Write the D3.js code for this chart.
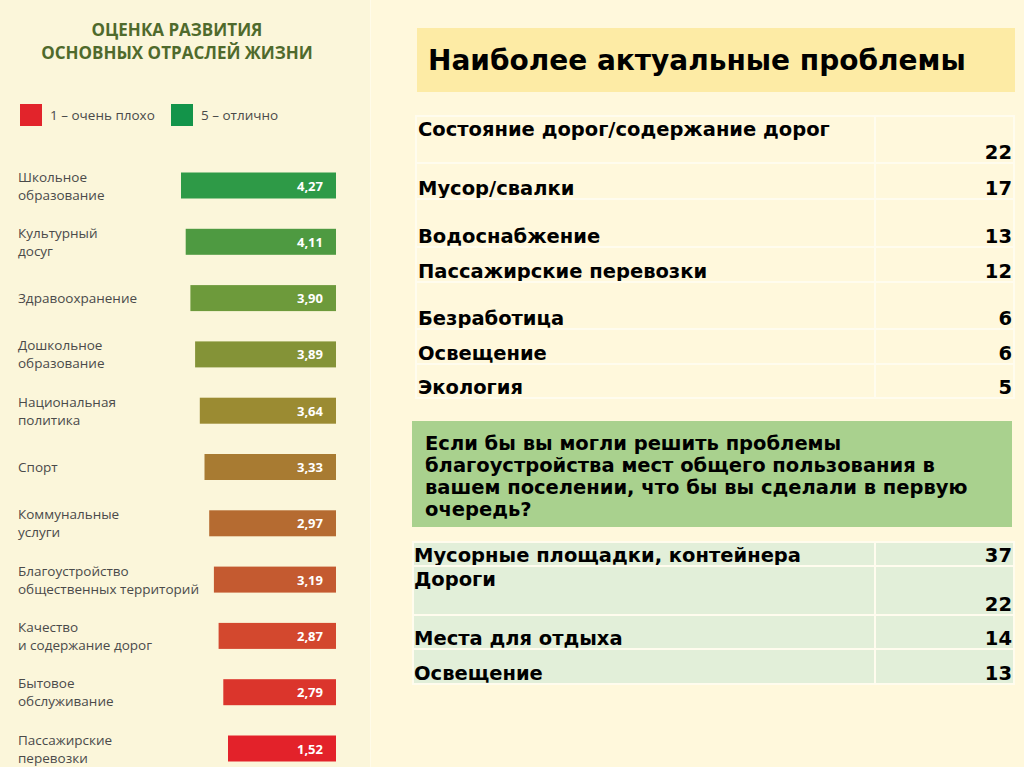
<!DOCTYPE html>
<html>
<head>
<meta charset="utf-8">
<script src="https://cdn.jsdelivr.net/npm/d3@7"></script>
<style>
  html, body { margin: 0; padding: 0; background: #fff8dc; }
  svg { display: block; }
</style>
</head>
<body>
<svg width="1024" height="767"></svg>
<script>
// left panel: ratings 1..5
const sectors = [
  ["Школьное", "образование"],
  ["Культурный", "досуг"],
  ["Здравоохранение"],
  ["Дошкольное", "образование"],
  ["Национальная", "политика"],
  ["Спорт"],
  ["Коммунальные", "услуги"],
  ["Благоустройство", "общественных территорий"],
  ["Качество", "и содержание дорог"],
  ["Бытовое", "обслуживание"],
  ["Пассажирские", "перевозки"]
];
const scores = [4.27, 4.11, 3.90, 3.89, 3.64, 3.33, 2.97, 3.19, 2.87, 2.79, 1.52];

// right panel: survey answers
const problems = ["Состояние дорог/содержание дорог", "Мусор/свалки", "Водоснабжение",
  "Пассажирские перевозки", "Безработица", "Освещение", "Экология"];
const problemVotes = [22, 17, 13, 12, 6, 6, 5];

const priorities = ["Мусорные площадки, контейнера", "Дороги", "Места для отдыха", "Освещение"];
const priorityVotes = [37, 22, 14, 13];

const svg = d3.select("svg");
const comma = d3.formatLocale({ decimal: ",", thousands: " ", grouping: [3], currency: ["", ""] }).format(".2f");

// ---- left panel ----
svg.append("rect").attr("x", 0).attr("y", 0).attr("width", 370).attr("height", 767).attr("fill", "#fbf6da");
svg.append("line").attr("x1", 370.5).attr("x2", 370.5).attr("y1", 0).attr("y2", 767)
  .attr("stroke", "#fffbe9").attr("stroke-width", 1);

const left = svg.append("g").attr("font-family", "'Open Sans', sans-serif");

left.selectAll(".ttl")
  .data(["ОЦЕНКА РАЗВИТИЯ", "ОСНОВНЫХ ОТРАСЛЕЙ ЖИЗНИ"])
  .join("text")
  .attr("x", 177).attr("y", (d, i) => 36 + i * 23)
  .attr("text-anchor", "middle")
  .attr("font-size", 17).attr("font-weight", 700)
  .attr("fill", "#4f6a2c")
  .text(d => d);

const legend = [
  { label: "1 – очень плохо", color: "#e2242b", x: 20 },
  { label: "5 – отлично", color: "#13944a", x: 171 }
];
const lg = left.selectAll(".lg").data(legend).join("g")
  .attr("transform", d => `translate(${d.x},104)`);
lg.append("rect").attr("width", 22).attr("height", 22).attr("fill", d => d.color);
lg.append("text").attr("x", 30).attr("y", 16)
  .attr("font-size", 13.5).attr("fill", "#4a4a4a").text(d => d.label);

const idx = d3.range(scores.length);
const y = d3.scalePoint().domain(idx).range([185.5, 748.5]);
const xStart = d3.scaleLinear().domain([0, scores.length - 1]).range([181, 228]);
const barRight = 336, barH = 26;
const color = d3.scaleLinear()
  .domain([0, 2, 4, 6, 8, 10])
  .range(["#2e9a47", "#6d9a3b", "#9b8b32", "#b56b31", "#d3482e", "#e3222a"]);

const rows = left.selectAll(".row").data(idx).join("g").attr("class", "row");

rows.append("rect")
  .attr("x", i => xStart(i))
  .attr("y", i => y(i) - barH / 2)
  .attr("width", i => barRight - xStart(i))
  .attr("height", barH)
  .attr("fill", i => color(i));

rows.append("text")
  .attr("x", 323).attr("y", i => y(i) + 5)
  .attr("text-anchor", "end")
  .attr("font-size", 13).attr("font-weight", 700)
  .attr("fill", "#fff")
  .text(i => comma(scores[i]));

rows.append("text")
  .attr("font-size", 13.5).attr("fill", "#4a4a4a")
  .each(function(i) {
    const lines = sectors[i];
    const t = d3.select(this);
    lines.forEach((ln, k) => {
      t.append("tspan")
        .attr("x", 18)
        .attr("y", y(i) + 5 + (k - (lines.length - 1) / 2) * 18)
        .text(ln);
    });
  });

// ---- right panel ----
const right = svg.append("g").attr("font-family", "'DejaVu Sans', Verdana, sans-serif").attr("font-weight", 700);

right.append("rect").attr("x", 417).attr("y", 28).attr("width", 598).attr("height", 64).attr("fill", "#fdeba5");
right.append("text").attr("x", 428).attr("y", 70).attr("font-size", 28).attr("fill", "#000")
  .text("Наиболее актуальные проблемы");

function table(g, labels, values, opt) {
  const tops = [opt.top];
  opt.heights.forEach(h => tops.push(tops[tops.length - 1] + h));
  const r = g.selectAll(null).data(labels).join("g");
  r.append("rect")
    .attr("x", opt.x0).attr("y", (d, i) => tops[i])
    .attr("width", opt.split - opt.x0).attr("height", (d, i) => opt.heights[i])
    .attr("fill", opt.fill).attr("stroke", "#fffcee").attr("stroke-width", 2);
  r.append("rect")
    .attr("x", opt.split).attr("y", (d, i) => tops[i])
    .attr("width", opt.x1 - opt.split).attr("height", (d, i) => opt.heights[i])
    .attr("fill", opt.fill).attr("stroke", "#fffcee").attr("stroke-width", 2);
  r.append("text")
    .attr("x", opt.tx)
    .attr("y", (d, i) => opt.labelTop[i] ? tops[i] + 20 : tops[i + 1] - 4)
    .attr("font-size", 19.5).attr("fill", "#000")
    .text(d => d);
  r.append("text")
    .attr("x", opt.x1 - 2)
    .attr("y", (d, i) => tops[i + 1] - 4)
    .attr("text-anchor", "end")
    .attr("font-size", 19.5).attr("fill", "#000")
    .text((d, i) => values[i]);
}

table(right, problems, problemVotes, {
  x0: 416, x1: 1014, split: 875, top: 116,
  heights: [47, 36, 48, 35, 47, 35, 34],
  labelTop: [true, false, false, false, false, false, false],
  tx: 418, fill: "#fff8dc"
});

right.append("rect").attr("x", 412).attr("y", 421).attr("width", 600).attr("height", 106).attr("fill", "#a9d18e");
right.append("text").attr("font-size", 19.5).attr("fill", "#000")
  .selectAll("tspan")
  .data(["Если бы вы могли решить проблемы", "благоустройства мест общего пользования в",
         "вашем поселении, что бы вы сделали в первую", "очередь?"])
  .join("tspan")
  .attr("x", 425).attr("y", (d, i) => 450 + i * 22)
  .text(d => d);

table(right, priorities, priorityVotes, {
  x0: 413, x1: 1014, split: 875, top: 542,
  heights: [24, 49, 34, 35],
  labelTop: [false, true, false, false],
  tx: 414, fill: "#e2efd9"
});
</script>
</body>
</html>
